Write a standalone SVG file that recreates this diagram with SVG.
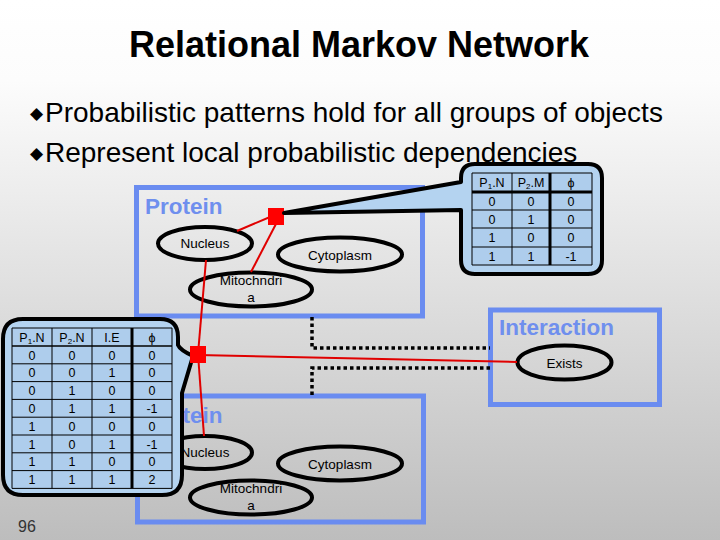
<svg xmlns="http://www.w3.org/2000/svg" width="720" height="540" viewBox="0 0 720 540">
<defs>
<linearGradient id="bg" x1="0" y1="0" x2="0" y2="1">
<stop offset="0" stop-color="#ffffff"/>
<stop offset="0.15" stop-color="#fcfcfc"/>
<stop offset="1" stop-color="#bdbdbd"/>
</linearGradient>
<style>
text{font-family:"Liberation Sans",Arial,sans-serif;}
.title{font-size:36px;font-weight:bold;fill:#000;text-anchor:middle;}
.bullet{font-size:28px;fill:#000;}
.dia{font-family:"DejaVu Sans",sans-serif;font-size:17px;fill:#000;}
.cls{fill:none;stroke:#6a8cf0;stroke-width:5;}
.clsname{font-size:22.5px;font-weight:bold;fill:#6f8fee;}
.attr{fill:none;stroke:#000;stroke-width:4;}
.lbl{font-size:13.5px;fill:#000;text-anchor:middle;}
.fac{fill:#ff0000;}
.edge{stroke:#e00000;stroke-width:2;fill:none;}
.dots{stroke:#000;stroke-width:3.5;stroke-dasharray:3.5 3;fill:none;}
.call{fill:#b4d3f0;stroke:#000;stroke-width:4;stroke-linejoin:round;}
.thin{stroke:#000;stroke-width:1;}
.thick{stroke:#000;stroke-width:3;}
.cell{font-size:12.5px;fill:#000;text-anchor:middle;}
.sub{font-size:8px;}
.pg{font-size:16px;fill:#333;}
</style>
</defs>
<rect x="0" y="0" width="720" height="540" fill="url(#bg)"/>

<text class="title" x="359" y="57">Relational Markov Network</text>
<text x="30" y="119" class="dia">◆</text>
<text class="bullet" x="45" y="122">Probabilistic patterns hold for all groups of objects</text>
<text x="30" y="159" class="dia">◆</text>
<text class="bullet" x="45" y="162">Represent local probabilistic dependencies</text>

<g id="protein1">
<rect class="cls" x="136.5" y="187.5" width="286" height="128.5"/>
<text class="clsname" x="145" y="214">Protein</text>
</g>
<g id="nucleus1">
<ellipse class="attr" cx="205" cy="243.5" rx="47" ry="16.5"/>
<text class="lbl" x="205" y="248">Nucleus</text>
</g>
<g id="cytoplasm1">
<ellipse class="attr" cx="340" cy="254.5" rx="62" ry="17"/>
<text class="lbl" x="340" y="259.5">Cytoplasm</text>
</g>
<g id="mito1">
<ellipse class="attr" cx="251" cy="289.5" rx="61" ry="17"/>
<text class="lbl" x="251" y="285">Mitochndri</text>
<text class="lbl" x="251" y="302">a</text>
</g>

<g id="protein2">
<rect class="cls" x="137.5" y="396" width="286" height="126"/>
<text class="clsname" x="145" y="423">Protein</text>
</g>
<g id="nucleus2">
<ellipse class="attr" cx="205" cy="452.5" rx="47" ry="16.5"/>
<text class="lbl" x="205" y="457">Nucleus</text>
</g>
<g id="cytoplasm2">
<ellipse class="attr" cx="340" cy="463.5" rx="62" ry="17"/>
<text class="lbl" x="340" y="468.5">Cytoplasm</text>
</g>
<g id="mito2">
<ellipse class="attr" cx="251" cy="497.5" rx="61" ry="17"/>
<text class="lbl" x="251" y="493">Mitochndri</text>
<text class="lbl" x="251" y="510">a</text>
</g>

<g id="interaction">
<rect class="cls" x="490.5" y="310" width="169" height="94.5"/>
<text class="clsname" x="499" y="335">Interaction</text>
</g>
<g id="exists">
<ellipse class="attr" cx="564.5" cy="362.5" rx="47" ry="17"/>
<text class="lbl" x="564.5" y="367.5">Exists</text>
</g>

<g id="connectors">
<path class="dots" d="M312,317 V348 H490"/>
<path class="dots" d="M490,368 H312 V395"/>
<line class="edge" x1="270" y1="217" x2="237" y2="231"/>
<line class="edge" x1="277" y1="222" x2="251" y2="272"/>
<line class="edge" x1="206" y1="260" x2="198" y2="354"/>
<line class="edge" x1="198" y1="354" x2="204" y2="436"/>
<line class="edge" x1="198" y1="355" x2="517" y2="362"/>
</g>

<g id="factor1">
<rect class="fac" x="268" y="208" width="16" height="17"/>
</g>

<g id="callout1">
<path class="call" d="M475,164 H588 Q602,164 602,178 V260 Q602,274 588,274 H475 Q461,274 461,260 V210 L284,213 L461,182 V178 Q461,164 475,164 Z"/>
<g>
<rect x="472" y="173" width="120" height="92" fill="#aecdec"/>
<line class="thin" x1="472" y1="173" x2="592" y2="173"/>
<line class="thin" x1="472" y1="210" x2="592" y2="210"/>
<line class="thin" x1="472" y1="228" x2="592" y2="228"/>
<line class="thin" x1="472" y1="247" x2="592" y2="247"/>
<line class="thin" x1="472" y1="265" x2="592" y2="265"/>
<line class="thin" x1="472" y1="173" x2="472" y2="265"/>
<line class="thin" x1="512" y1="173" x2="512" y2="265"/>
<line class="thin" x1="592" y1="173" x2="592" y2="265"/>
<line class="thick" x1="472" y1="192" x2="592" y2="192"/>
<line class="thick" x1="550" y1="173" x2="550" y2="265"/>
<text class="cell" x="492" y="187">P<tspan class="sub" dy="2">1</tspan><tspan dy="-2">.N</tspan></text>
<text class="cell" x="531" y="187">P<tspan class="sub" dy="2">2</tspan><tspan dy="-2">.M</tspan></text>
<text class="cell" x="571" y="187">ϕ</text>
<text class="cell" x="492" y="205.5">0</text><text class="cell" x="531" y="205.5">0</text><text class="cell" x="571" y="205.5">0</text>
<text class="cell" x="492" y="223.5">0</text><text class="cell" x="531" y="223.5">1</text><text class="cell" x="571" y="223.5">0</text>
<text class="cell" x="492" y="242">1</text><text class="cell" x="531" y="242">0</text><text class="cell" x="571" y="242">0</text>
<text class="cell" x="492" y="260.5">1</text><text class="cell" x="531" y="260.5">1</text><text class="cell" x="571" y="260.5">-1</text>
</g>
</g>

<g id="callout2">
<path class="call" d="M23,319 H160 Q178,319 178,337 V345 Q180,350 193,356 L182,393 V475 Q182,495 162,495 H23 Q3,495 3,475 V339 Q3,319 23,319 Z"/>
<g>
<rect x="12" y="328" width="160" height="160" fill="#aecdec"/>
<line class="thin" x1="12" y1="328" x2="172" y2="328"/>
<line class="thin" x1="12" y1="363.8" x2="172" y2="363.8"/>
<line class="thin" x1="12" y1="381.6" x2="172" y2="381.6"/>
<line class="thin" x1="12" y1="399.4" x2="172" y2="399.4"/>
<line class="thin" x1="12" y1="417.2" x2="172" y2="417.2"/>
<line class="thin" x1="12" y1="435" x2="172" y2="435"/>
<line class="thin" x1="12" y1="452.8" x2="172" y2="452.8"/>
<line class="thin" x1="12" y1="470.6" x2="172" y2="470.6"/>
<line class="thin" x1="12" y1="488.4" x2="172" y2="488.4"/>
<line class="thin" x1="12" y1="328" x2="12" y2="488.4"/>
<line class="thin" x1="52" y1="328" x2="52" y2="488.4"/>
<line class="thin" x1="92" y1="328" x2="92" y2="488.4"/>
<line class="thin" x1="172" y1="328" x2="172" y2="488.4"/>
<line stroke="#000" stroke-width="1.6" x1="12" y1="346" x2="172" y2="346"/>
<line class="thick" x1="132" y1="328" x2="132" y2="488.4"/>
<text class="cell" x="32" y="341.5">P<tspan class="sub" dy="2">1</tspan><tspan dy="-2">.N</tspan></text>
<text class="cell" x="72" y="341.5">P<tspan class="sub" dy="2">2</tspan><tspan dy="-2">.N</tspan></text>
<text class="cell" x="112" y="341.5">I.E</text>
<text class="cell" x="152" y="341.5">ϕ</text>
<text class="cell" x="32" y="359.5">0</text><text class="cell" x="72" y="359.5">0</text><text class="cell" x="112" y="359.5">0</text><text class="cell" x="152" y="359.5">0</text>
<text class="cell" x="32" y="377.3">0</text><text class="cell" x="72" y="377.3">0</text><text class="cell" x="112" y="377.3">1</text><text class="cell" x="152" y="377.3">0</text>
<text class="cell" x="32" y="395.1">0</text><text class="cell" x="72" y="395.1">1</text><text class="cell" x="112" y="395.1">0</text><text class="cell" x="152" y="395.1">0</text>
<text class="cell" x="32" y="412.9">0</text><text class="cell" x="72" y="412.9">1</text><text class="cell" x="112" y="412.9">1</text><text class="cell" x="152" y="412.9">-1</text>
<text class="cell" x="32" y="430.7">1</text><text class="cell" x="72" y="430.7">0</text><text class="cell" x="112" y="430.7">0</text><text class="cell" x="152" y="430.7">0</text>
<text class="cell" x="32" y="448.5">1</text><text class="cell" x="72" y="448.5">0</text><text class="cell" x="112" y="448.5">1</text><text class="cell" x="152" y="448.5">-1</text>
<text class="cell" x="32" y="466.3">1</text><text class="cell" x="72" y="466.3">1</text><text class="cell" x="112" y="466.3">0</text><text class="cell" x="152" y="466.3">0</text>
<text class="cell" x="32" y="484.1">1</text><text class="cell" x="72" y="484.1">1</text><text class="cell" x="112" y="484.1">1</text><text class="cell" x="152" y="484.1">2</text>
</g>
</g>

<g id="factor2">
<rect class="fac" x="190" y="346" width="16" height="17"/>
</g>

<text class="pg" x="18" y="532">96</text>
</svg>
